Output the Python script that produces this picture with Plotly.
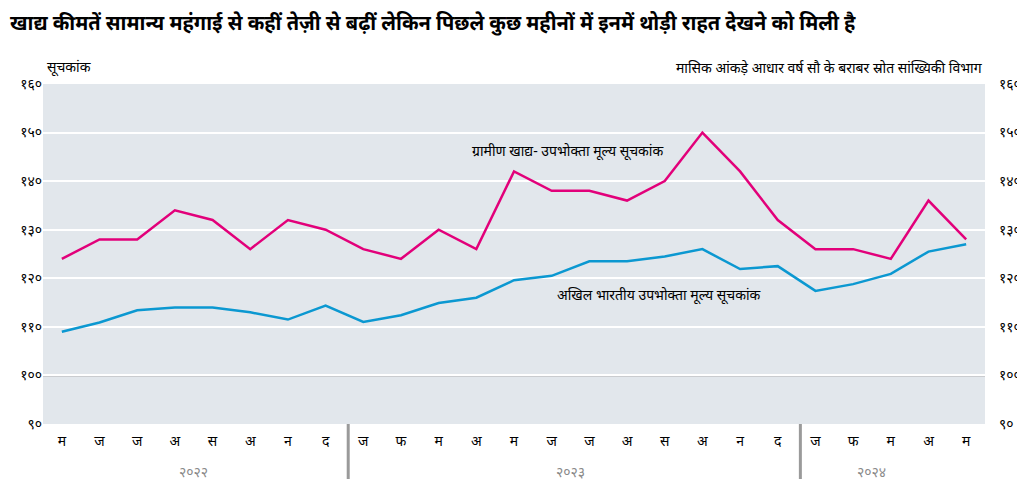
import plotly.graph_objects as go

# ---- data ----
months = ["म", "ज", "ज", "अ", "स", "अ", "न", "द",
          "ज", "फ", "म", "अ", "म", "ज", "ज", "अ", "स", "अ", "न", "द",
          "ज", "फ", "म", "अ", "म"]
food_index = [124, 128, 128, 134, 132, 126, 132, 130, 126, 124, 130, 126,
              142, 138, 138, 136, 140, 150, 142, 132, 126, 126, 124, 136, 128]
general_index = [109.0, 110.9, 113.4, 114.0, 114.0, 113.0, 111.5, 114.4, 111.0, 112.4,
                 114.9, 116.0, 119.6, 120.5, 123.5, 123.5, 124.5, 126.0, 121.9, 122.5,
                 117.4, 118.8, 120.9, 125.5, 127.0]
y_ticks = [90, 100, 110, 120, 130, 140, 150, 160]
y_ticktext = ["९०", "१००", "११०", "१२०", "१३०", "१४०", "१५०", "१६०"]
years = ["२०२२", "२०२३", "२०२४"]
year_pos = [3.5, 13.5, 21.5]
year_breaks = [7.6, 19.6]

title = ("खाद्य कीमतें सामान्य महंगाई से कहीं तेज़ी से बढ़ीं लेकिन "
         "पिछले कुछ महीनों में इनमें थोड़ी राहत देखने को मिली है")
unit = "सूचकांक"
note = "मासिक आंकड़े आधार वर्ष सौ के बराबर स्रोत सांख्यिकी विभाग"
food_label = "ग्रामीण खाद्य- उपभोक्ता मूल्य सूचकांक"
general_label = "अखिल भारतीय उपभोक्ता मूल्य सूचकांक"

PINK = "#e2007a"
BLUE = "#0b98d1"
FONT = "Noto Sans"

x = list(range(len(months)))

fig = go.Figure()
fig.add_trace(go.Scatter(x=x, y=food_index, mode="lines",
                         line=dict(color=PINK, width=2.5), showlegend=False))
fig.add_trace(go.Scatter(x=x, y=general_index, mode="lines",
                         line=dict(color=BLUE, width=2.5), showlegend=False))
# invisible trace that activates the mirrored right-hand axis
fig.add_trace(go.Scatter(x=[x[0]], y=[food_index[0]], yaxis="y2", mode="markers",
                         marker=dict(opacity=0), showlegend=False, hoverinfo="skip"))

fig.update_layout(
    width=1025, height=479,
    margin=dict(l=35, r=42, t=76, b=63),
    paper_bgcolor="white",
    plot_bgcolor="#e2e7ec",
    font=dict(family=FONT, size=14, color="black"),
    title=dict(text="<b>" + title + "</b>", x=2 / 1025, xanchor="left",
               y=1 - 15 / 479, yanchor="middle", yref="container",
               font=dict(size=20, color="black")),
    xaxis=dict(range=[-0.5, len(months) - 0.5], tickvals=x, ticktext=months,
               showgrid=False, zeroline=False, showline=False, ticks="",
               tickfont=dict(size=14), ticklabelstandoff=7),
    yaxis=dict(range=[90, 160], tickvals=y_ticks, ticktext=y_ticktext,
               showgrid=True, gridcolor="white", gridwidth=2,
               zeroline=False, showline=False, ticks="", tickfont=dict(size=14)),
    yaxis2=dict(range=[90, 160], tickvals=y_ticks, ticktext=y_ticktext,
                overlaying="y", side="right", showgrid=False, zeroline=False,
                showline=False, ticks="", tickfont=dict(size=14),
                ticklabelstandoff=13),
)

fig.add_hline(y=100, line=dict(color="#b2b2b2", width=2), layer="below")

for b in year_breaks:
    fig.add_shape(type="line", xref="x", yref="paper", x0=b, x1=b, y0=0, y1=-0.2,
                  line=dict(color="#9a9a9a", width=3))

annotations = [
    dict(text=unit, xref="paper", yref="paper", x=0, y=1, xanchor="left",
         yanchor="middle", yshift=17, xshift=2, showarrow=False, font=dict(size=14)),
    dict(text=note, xref="paper", yref="paper", x=1, y=1, xanchor="right",
         yanchor="middle", yshift=17, showarrow=False, font=dict(size=14)),
    dict(text=food_label, xref="x", yref="y", x=13.43, y=146.2, showarrow=False,
         font=dict(size=14)),
    dict(text=general_label, xref="x", yref="y", x=15.84, y=116.65, showarrow=False,
         font=dict(size=14)),
]
for yr, p in zip(years, year_pos):
    annotations.append(dict(text=yr, xref="x", yref="paper", x=p, y=0, yshift=-47,
                            yanchor="middle", showarrow=False,
                            font=dict(size=14, color="#8a8a8a")))
fig.update_layout(annotations=annotations)

fig.write_html("out.html")
